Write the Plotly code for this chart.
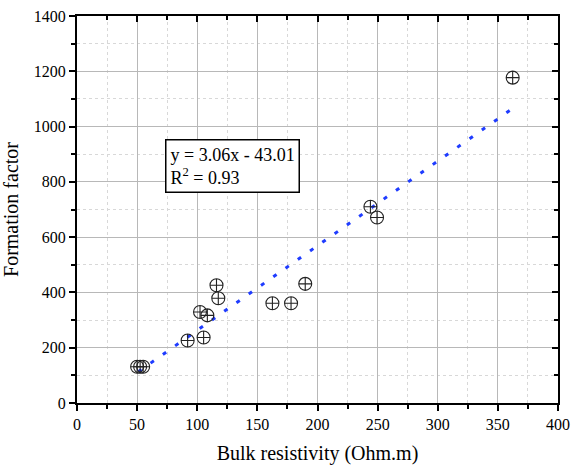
import plotly.graph_objects as go

bulk_resistivity = [50, 52.5, 55, 92, 105.3, 102.3, 108.4, 117.5, 116, 162.5, 178, 189.8, 244, 249.5, 362.3]
formation_factor = [131, 131, 131, 226, 237, 329, 317, 379, 426, 361, 361, 431, 710, 671, 1177]
fit_slope = 3.06
fit_intercept = -43.01
fit_x = [51, 362]
fit_y = [fit_slope * v + fit_intercept for v in fit_x]

FONT = "Liberation Serif"

fig = go.Figure()
fig.add_trace(go.Scatter(
    x=fit_x, y=fit_y, mode="lines",
    line=dict(color="#1f3cff", width=3, dash="4px,11px"),
    showlegend=False, hoverinfo="skip"))
fig.add_trace(go.Scatter(
    x=bulk_resistivity, y=formation_factor, mode="markers",
    marker=dict(symbol="circle-cross-open", size=13, color="#222222",
                line=dict(color="#222222", width=1.1)),
    showlegend=False))
fig.add_trace(go.Scatter(x=[None], y=[None], xaxis="x2", yaxis="y2", showlegend=False))

axis_common = dict(showline=True, linecolor="black", linewidth=2, zeroline=False, automargin=False,
                   tickfont=dict(family=FONT, size=16, color="black"))

fig.update_layout(
    width=573, height=465,
    margin=dict(l=77, r=15, t=16, b=62),
    paper_bgcolor="white", plot_bgcolor="white",
    font=dict(family=FONT, color="black"),
    xaxis=dict(range=[0, 400], dtick=50, ticks="outside", ticklen=6, tickwidth=1.5,
               tickcolor="black",
               showgrid=True, gridcolor="#b8b8b8", gridwidth=1,
               minor=dict(dtick=25, ticks="outside", ticklen=4, tickcolor="black",
                          showgrid=True, gridcolor="#d8d8d8", griddash="dot", gridwidth=1),
               title=dict(text="Bulk resistivity (Ohm.m)", font=dict(family=FONT, size=20), standoff=16),
               **axis_common),
    yaxis=dict(range=[0, 1400], dtick=200, ticks="outside", ticklen=6, tickwidth=1.5,
               tickcolor="black",
               showgrid=True, gridcolor="#b8b8b8", gridwidth=1,
               minor=dict(dtick=100, ticks="outside", ticklen=4, tickcolor="black",
                          showgrid=True, gridcolor="#d8d8d8", griddash="dot", gridwidth=1),
               title=dict(text="Formation factor", font=dict(family=FONT, size=20), standoff=14),
               **axis_common),
    xaxis2=dict(range=[0, 400], dtick=50, overlaying="x", side="top", ticks="inside",
                ticklen=6, tickwidth=1.5, tickcolor="black", showticklabels=False, automargin=False,
                showgrid=False, showline=True, linecolor="black", linewidth=2, zeroline=False,
                minor=dict(dtick=25, ticks="inside", ticklen=4, tickcolor="black", showgrid=False)),
    yaxis2=dict(range=[0, 1400], dtick=200, overlaying="y", side="right", ticks="inside",
                ticklen=6, tickwidth=1.5, tickcolor="black", showticklabels=False, automargin=False,
                showgrid=False, showline=True, linecolor="black", linewidth=2, zeroline=False,
                minor=dict(dtick=100, ticks="inside", ticklen=4, tickcolor="black", showgrid=False)),
    annotations=[dict(
        x=73.5, y=955, xref="x", yref="y", xanchor="left", yanchor="top",
        text="y = 3.06x - 43.01<br>R<sup>2</sup> = 0.93", align="left", showarrow=False,
        font=dict(family=FONT, size=18, color="black"),
        bordercolor="black", borderwidth=1.5, borderpad=4, bgcolor="white")],
)

fig.write_html("out.html")
